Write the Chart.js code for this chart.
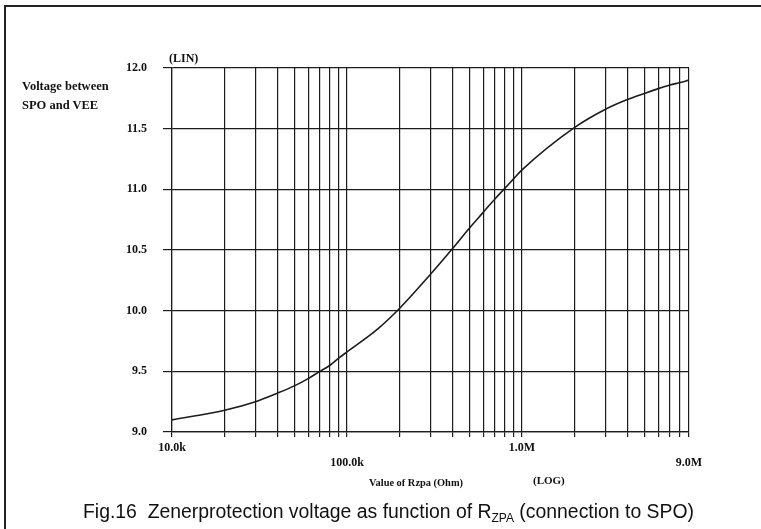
<!DOCTYPE html>
<html>
<head>
<meta charset="utf-8">
<script src="https://cdn.jsdelivr.net/npm/chart.js@4.4.1/dist/chart.umd.min.js"></script>
<style>
  html, body { margin: 0; padding: 0; background: #fff; }
  #wrap { position: relative; width: 761px; height: 529px; overflow: hidden; background: #fff; }
  #c { position: absolute; left: 0; top: 0; }
  .t { position: absolute; white-space: nowrap; color: #111; line-height: 1; }
  .serif { font-family: "Liberation Serif", "DejaVu Serif", serif; font-weight: bold; }
  .sans { font-family: "Liberation Sans", Arial, sans-serif; }
  #frame { position: absolute; left: 4px; top: 5px; width: 800px; height: 600px;
           border-left: 2px solid #222; border-top: 2px solid #222; }
</style>
</head>
<body>
<div id="wrap">
  <div id="frame"></div>
  <canvas id="c" width="761" height="529"></canvas>
  <div class="t serif" style="left:169px; top:52px; font-size:12px;">(LIN)</div>
  <div class="t serif" style="left:22px; top:80px; font-size:12.5px;">Voltage between</div>
  <div class="t serif" style="left:22px; top:99px; font-size:12.5px;">SPO and VEE</div>
  <div class="t serif" style="left:369px; top:478px; font-size:10.4px;">Value of Rzpa (Ohm)</div>
  <div class="t serif" style="left:533px; top:475px; font-size:11px;">(LOG)</div>
  <div class="t sans" style="left:83px; top:502px; font-size:19.4px;">Fig.16&nbsp; Zenerprotection voltage as function of R<sub style="font-size:12px; vertical-align:-4px;">ZPA</sub> (connection to SPO)</div>
</div>
<script>
// ---- data ----
const resistanceOhm = [1e4, 2e4, 3e4, 4e4, 5e4, 6e4, 7e4, 8e4, 9e4,
                       1e5, 1.5e5, 2e5, 3e5, 4e5, 5e5, 6e5, 7e5, 8e5, 9e5,
                       1e6, 2e6, 3e6, 4e6, 5e6, 6e6, 7e6, 8e6, 9e6];
const voltageV = [9.10, 9.18, 9.25, 9.32, 9.38, 9.44, 9.50, 9.55, 9.61,
                  9.66, 9.85, 10.02, 10.30, 10.51, 10.68, 10.81, 10.92, 11.01, 11.09,
                  11.16, 11.51, 11.66, 11.74, 11.79, 11.83, 11.86, 11.88, 11.90];
const xGridValues = [1e4, 2e4, 3e4, 4e4, 5e4, 6e4, 7e4, 8e4, 9e4,
                     1e5, 2e5, 3e5, 4e5, 5e5, 6e5, 7e5, 8e5, 9e5,
                     1e6, 2e6, 3e6, 4e6, 5e6, 6e6, 7e6, 8e6, 9e6];
const xTickLabels = { 1e4: "10.0k", 1e5: ["", "100.0k"], 1e6: "1.0M", 9e6: ["", "9.0M"] };
const yMin = 9.0, yMax = 12.0, yStep = 0.5;

const ink = "#1c1c1c";
const tickFont = { family: "'Liberation Serif', 'DejaVu Serif', serif", size: 12, weight: "bold" };

new Chart(document.getElementById("c"), {
  type: "line",
  data: {
    datasets: [{
      data: resistanceOhm.map((r, i) => ({ x: r, y: voltageV[i] })),
      borderColor: ink,
      borderWidth: 1.6,
      pointRadius: 0,
      fill: false,
      cubicInterpolationMode: "monotone"
    }]
  },
  options: {
    responsive: false,
    animation: false,
    devicePixelRatio: 1,
    layout: { padding: { top: 68, right: 72, left: 0, bottom: 0 } },
    plugins: { legend: { display: false }, tooltip: { enabled: false }, title: { display: false } },
    scales: {
      x: {
        type: "logarithmic",
        min: 1e4,
        max: 9e6,
        afterBuildTicks: (s) => { s.ticks = xGridValues.map(v => ({ value: v })); },
        afterFit: (s) => { s.height = 97; },
        grid: { color: ink, lineWidth: 1.2, tickLength: 5, drawTicks: true },
        border: { color: ink, width: 1.2 },
        ticks: {
          autoSkip: false, maxRotation: 0, minRotation: 0,
          color: "#111", font: tickFont, padding: 4,
          callback: (v) => xTickLabels[v] !== undefined ? xTickLabels[v] : ""
        }
      },
      y: {
        type: "linear",
        min: yMin,
        max: yMax,
        afterFit: (s) => { s.width = 172; },
        grid: { color: ink, lineWidth: 1.2, tickLength: 9, drawTicks: true },
        border: { color: ink, width: 1.2 },
        ticks: {
          stepSize: yStep, color: "#111", font: tickFont, padding: 16,
          callback: (v) => Number(v).toFixed(1)
        }
      }
    }
  }
});
</script>
</body>
</html>
